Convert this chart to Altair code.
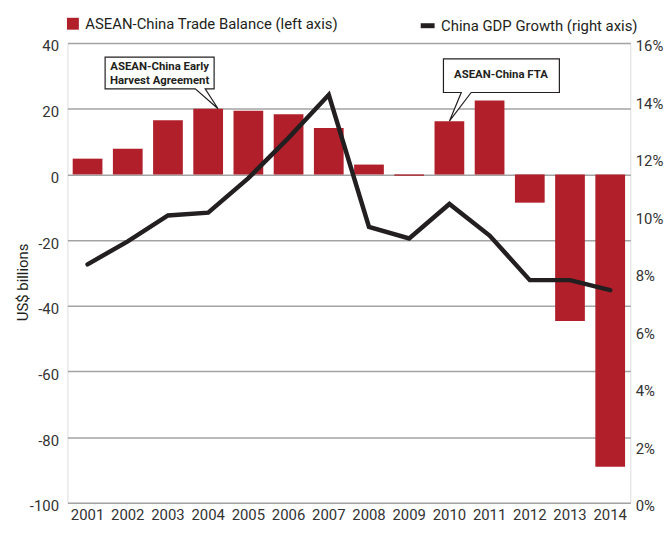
import altair as alt
import pandas as pd

years = [str(y) for y in range(2001, 2015)]
trade_balance = [4.8, 7.8, 16.5, 20.0, 19.4, 18.3, 14.1, 3.0, -0.4, 16.2, 22.5, -8.6, -44.6, -89.0]
gdp_growth = [8.3, 9.1, 10.0, 10.1, 11.3, 12.7, 14.2, 9.6, 9.2, 10.4, 9.3, 7.75, 7.75, 7.4]
left_ticks = [-100, -80, -60, -40, -20, 0, 20, 40]
right_ticks = [0, 2, 4, 6, 8, 10, 12, 14, 16]

bar_name = "ASEAN-China Trade Balance (left axis)"
line_name = "China GDP Growth (right axis)"

callout1_year = ["2004"]
callout1_value = [20.0]
callout1_text = ["ASEAN-China Early\nHarvest Agreement"]
callout2_year = ["2010"]
callout2_value = [16.2]
callout2_text = ["ASEAN-China FTA"]

FONT = "Roboto, Liberation Sans, sans-serif"
RED = "#b01f2a"
INK = "#231f20"
GRID = "#a3a3a3"
LABEL = "#333333"

df = pd.DataFrame({
    "year": years,
    "trade": trade_balance,
    "gdp": gdp_growth,
    "bar_series": [bar_name] * len(years),
    "line_series": [line_name] * len(years),
})
c1 = pd.DataFrame({"year": callout1_year, "value": callout1_value, "label": callout1_text})
c2 = pd.DataFrame({"year": callout2_year, "value": callout2_value, "label": callout2_text})

x_enc = alt.X(
    "year:N",
    sort=years,
    scale=alt.Scale(paddingInner=0.26, paddingOuter=0.13),
    axis=alt.Axis(title=None, labelAngle=0, ticks=False, domain=False, labelPadding=5,
                  labelFontSize=15, labelColor=LABEL, labelFont=FONT, grid=False),
)
left_scale = alt.Scale(domain=[-100, 40], nice=False, zero=False)

bars = alt.Chart(df).mark_bar(size=30).encode(
    x=x_enc,
    y=alt.Y(
        "trade:Q",
        scale=left_scale,
        axis=alt.Axis(
            title="US$ billions", values=left_ticks, labelExpr="'' + datum.value",
            ticks=False, domain=False,
            grid=True, gridColor=GRID, gridWidth=1.5, labelPadding=9, labelFontSize=15,
            labelColor=LABEL, labelFont=FONT, labelOffset=3, titleFont=FONT, titleFontSize=15,
            titleFontWeight="normal", titleColor=INK, titleBaseline="middle", titleAngle=270,
            titleX=-45, titleY=241,
        ),
    ),
    color=alt.Color(
        "bar_series:N",
        scale=alt.Scale(domain=[bar_name], range=[RED]),
        legend=alt.Legend(
            title=None, orient="none", legendX=-2, legendY=-27, symbolType="square",
            symbolSize=144, symbolStrokeWidth=0, labelFontSize=15, labelFont=FONT,
            labelColor=INK, padding=0, labelOffset=5, labelLimit=0,
        ),
    ),
)

callout1 = alt.Chart(c1).mark_point(
    shape="M-104,-52 L6,-52 L6,-20 L-3,-20 L10,0 L-13,-20 L-104,-20 Z",
    size=4, filled=True, fill="white", stroke=INK, strokeWidth=1.2, opacity=1,
).encode(x=alt.X("year:N", sort=years), y=alt.Y("value:Q", scale=left_scale))
text1 = alt.Chart(c1).mark_text(
    font=FONT, fontSize=11.5, fontWeight="bold", color=INK, lineBreak="\n", lineHeight=14,
    align="center", baseline="middle", dx=-49, dy=-42,
).encode(x=alt.X("year:N", sort=years), y=alt.Y("value:Q", scale=left_scale), text="label:N")

callout2 = alt.Chart(c2).mark_point(
    shape="M-6,-63 L111,-63 L111,-29 L22,-29 L0,0 L12,-29 L-6,-29 Z",
    size=4, filled=True, fill="white", stroke=INK, strokeWidth=1.2, opacity=1,
).encode(x=alt.X("year:N", sort=years), y=alt.Y("value:Q", scale=left_scale))
text2 = alt.Chart(c2).mark_text(
    font=FONT, fontSize=11.5, fontWeight="bold", color=INK,
    align="center", baseline="middle", dx=52, dy=-47,
).encode(x=alt.X("year:N", sort=years), y=alt.Y("value:Q", scale=left_scale), text="label:N")

left_layer = alt.layer(bars, callout1, text1, callout2, text2)

line = alt.Chart(df).mark_line(strokeWidth=4.5, strokeCap="round", strokeJoin="miter").encode(
    x=x_enc,
    y=alt.Y(
        "gdp:Q",
        scale=alt.Scale(domain=[0, 16], nice=False, zero=False),
        axis=alt.Axis(
            orient="right", title=None, values=right_ticks, labelExpr="datum.value + '%'",
            ticks=False, domain=False, grid=False, labelPadding=5, labelFontSize=15,
            labelColor=LABEL, labelFont=FONT, labelOffset=3,
        ),
    ),
    stroke=alt.Stroke(
        "line_series:N",
        scale=alt.Scale(domain=[line_name], range=[INK]),
        legend=alt.Legend(
            title=None, orient="none", legendX=354, legendY=-27, symbolType="stroke",
            symbolSize=196, symbolStrokeWidth=5, labelFontSize=15, labelFont=FONT,
            labelColor=INK, padding=0, labelOffset=4, labelLimit=0,
        ),
    ),
)

chart = alt.layer(left_layer, line).resolve_scale(y="independent").properties(
    width=568,
    height=464,
    autosize=alt.AutoSizeParams(type="none"),
    padding={"left": 60, "top": 33, "right": 34, "bottom": 22},
).configure_view(stroke=None).configure(font=FONT)

chart.save("out.html", embed_options={"renderer": "svg", "actions": False})
